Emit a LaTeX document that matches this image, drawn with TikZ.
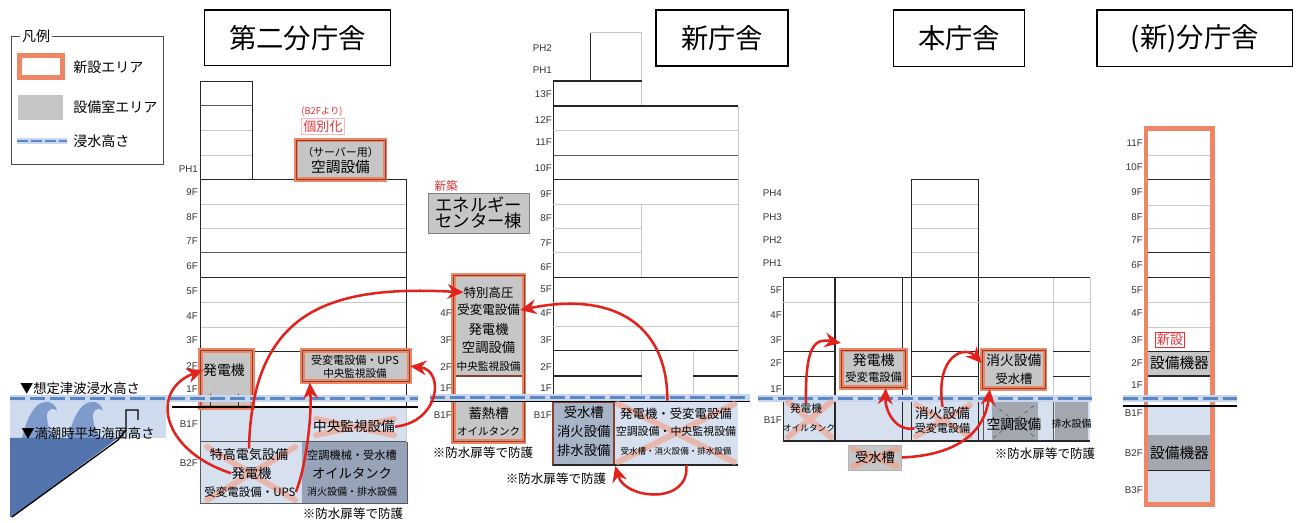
\documentclass[tikz,border=0pt]{standalone}
\usepackage{fontspec}
\setmainfont{Noto Sans CJK JP}
\newfontfamily\lblfont{Liberation Sans}
\usetikzlibrary{arrows.meta,calc}

\definecolor{newor}{HTML}{EE8666}
\definecolor{newrim}{HTML}{8C3F2E}
\definecolor{roomgray}{HTML}{C6C6C6}
\definecolor{lowblue}{HTML}{D6E0EF}
\definecolor{slate}{HTML}{97A3B8}
\definecolor{tankblue}{HTML}{A8B4C8}
\definecolor{plantgray}{HTML}{A3A7AF}
\definecolor{flowred}{HTML}{E2231D}
\definecolor{xmark}{HTML}{F2A08A}
\definecolor{floorgray}{HTML}{C9C9C9}
\definecolor{waterdash}{HTML}{5B87C4}
\definecolor{waterhalo}{HTML}{C8D7EE}
\definecolor{seadeep}{HTML}{5474AE}
\definecolor{seawave}{HTML}{7F9BCB}
\definecolor{seabright}{HTML}{CFDCEF}
\definecolor{notered}{HTML}{E5323A}

\newcommand\fsz[1]{\fontsize{#1pt}{#1pt}\selectfont}
% salmon cross over equipment that is moved away
\newcommand\strikeX[4]{\draw[xout] (#1,#2) -- (#3,#4) (#1,#4) -- (#3,#2);}

\begin{document}
\begin{tikzpicture}[x=0.75pt,y=-0.75pt,
  wall/.style={draw=black!85,line width=0.8pt},
  thinwall/.style={draw=black!65,line width=0.5pt},
  floorln/.style={draw=floorgray,line width=0.5pt},
  ground/.style={draw=black,line width=1.3pt},
  fl/.style={font=\lblfont\fontsize{7.3}{8}\selectfont,anchor=east,inner sep=0pt,text=black!80},
  tx/.style={inner sep=0pt,font=\fsz{#1}},
  redtx/.style={inner sep=0pt,text=notered,font=\fsz{#1}},
  titlebox/.style={draw=black,line width=1.1pt,fill=white,inner sep=0pt,font=\fsz{20.5}},
  newarea/.style={draw=newor,double=newrim,double distance=0.7pt,line width=1.4pt,inner sep=0pt},
  flow/.style={draw=flowred,line width=1.9pt,-{Stealth[length=12pt,width=11pt]}},
  xout/.style={draw=xmark,line width=4.5pt,opacity=0.65,line cap=round},
  waterband/.style={draw=waterhalo,line width=5pt},
  waterline/.style={draw=waterdash,line width=2.2pt,dash pattern=on 11pt off 4pt},
]
\fill[white] (0,0) rectangle (1299,523);
\useasboundingbox (0,0) rectangle (1299,523);

% ---------------- legend ----------------
\draw[draw=black!70,line width=0.6pt] (11,36) rectangle (163,164);
\node[fill=white,inner sep=1.5pt,font=\fsz{10.5}] (legtitle) at (36,36) {凡例};
\draw[draw=newor,line width=3.6pt,fill=white] (19.5,55.5) rectangle (62.5,77.5);
\node[tx=10.5,anchor=west] (legnew) at (73,67) {新設エリア};
\fill[roomgray] (18,95) rectangle (63,120);
\node[tx=10.5,anchor=west] (legroom) at (73,107) {設備室エリア};
\draw[waterband,line width=4pt] (17,141) -- (67,141);
\draw[waterline,dash pattern=on 8pt off 2.5pt] (17,141) -- (67,141);
\node[tx=10.5,anchor=west] (legwater) at (73,141) {浸水高さ};

% ---------------- titles ----------------
\node[titlebox,minimum width=139.8pt,minimum height=41.8pt] (t1) at (297.5,37.9) {第二分庁舎};
\node[titlebox,minimum width=99pt,minimum height=42pt] (t2) at (722,38) {新庁舎};
\node[titlebox,minimum width=98pt,minimum height=42.5pt] (t3) at (959,38.3) {本庁舎};
\node[titlebox,minimum width=146.8pt,minimum height=42.5pt] (t4) at (1194.8,38.3) {(新)分庁舎};

% ---------------- sea and seawall ----------------
\fill[seabright] (10,399) rectangle (166,438);
\foreach \wx in {22,68} {
  \fill[seawave] (\wx,438) .. controls (\wx+5,418) and (\wx+12,403) .. (\wx+23,402)
    .. controls (\wx+29,401) and (\wx+34,405) .. (\wx+35,411)
    .. controls (\wx+30,406) and (\wx+24,410) .. (\wx+25,418)
    .. controls (\wx+26,428) and (\wx+29,434) .. (\wx+34,438) -- cycle;
}
\fill[seadeep] (10,438) -- (118,438) -- (12,517) -- (10,517) -- cycle;
\draw[black,line width=1pt] (12,517) -- (118,440) -- (126,430) -- (126,410) -- (138,410) -- (138,420);

% ---------------- 第二分庁舎 ----------------
\fill[lowblue] (200.7,407.3) rectangle (406.7,441.7);
\fill[lowblue] (200.7,441.7) rectangle (301.7,503.3);
\fill[slate] (301.7,441.7) rectangle (407,503.3);
\draw[floorln] (200.7,130.7) -- (252.3,130.7) (200.7,155) -- (252.3,155);
\draw[thinwall] (200.7,105.7) -- (252.3,105.7);
\draw[wall] (200.7,179.3) -- (200.7,81.3) -- (252.3,81.3) -- (252.3,179.3);
\draw[floorln] (200.7,204) -- (406.7,204) (200.7,228.5) -- (406.7,228.5)
  (200.7,302.3) -- (406.7,302.3) (200.7,326.9) -- (406.7,326.9);
\draw[thinwall] (200.7,252.7) -- (406.7,252.7);
\draw[wall] (200.7,277.3) -- (406.7,277.3) (200.7,351.5) -- (406.7,351.5);
\draw[wall] (200.7,407.3) -- (200.7,179.3) -- (406.7,179.3) -- (406.7,407.3);
\draw[thinwall] (200.7,441.7) -- (407,441.7);
\draw[thinwall] (200.7,407.3) -- (200.7,503.3) -- (407,503.3) -- (407,441.7);
\draw[floorln] (406.7,407.3) -- (406.7,441.7);

\node[newarea,fill=roomgray,minimum width=38.7pt,minimum height=42.45pt] (genbox) at (226.5,379) {};
\draw[gray!70,dotted,line width=0.5pt] (208,394) -- (226,386) -- (240,394);
\draw[black!80,line width=0.6pt] (210,394) -- (210,407) (238.3,394) -- (238.3,407);
\node[newarea,fill=roomgray,minimum width=79.95pt,minimum height=23.25pt] (jhbox) at (356,366.2) {};
\node[newarea,fill=roomgray,minimum width=66.75pt,minimum height=29.5pt] (srvbox) at (340.5,159.65) {};
\draw[ground] (171.7,407.3) -- (418,407.3);

\foreach \t/\y in {PH1/169,9F/192,8F/217,7F/241,6F/266,5F/291,4F/316,3F/340,2F/366,1F/389,B1F/424,B2F/463}
  \node[fl] (la\t) at (198,\y) {\t};

% ---------------- エネルギーセンター棟 ----------------
\fill[roomgray] (453.3,275) rectangle (524,376);
\fill[roomgray] (453.3,400) rectangle (524,441.7);
\draw[newrim,line width=0.8pt] (453.3,376) -- (524,376);
\node[newarea,minimum width=53pt,minimum height=125pt] (ebox) at (488.65,358.35) {};
\node[draw=black!50,line width=0.5pt,fill=roomgray,minimum width=75.75pt,minimum height=30pt,
  inner sep=0pt,align=center,font=\fontsize{13}{12}\selectfont] (ecbox) at (478.8,213.3) {エネルギー\\センター棟};
\foreach \t/\y in {4F/313,3F/340,2F/367,1F/388,B1F/415}
  \node[fl] (en\t) at (452,\y) {\t};

% ---------------- 新庁舎 ----------------
\fill[lowblue] (553.3,401) rectangle (738.3,465);
\draw[wall] (590.7,81) -- (590.7,32.7);
\draw[floorln] (590.7,32.7) -- (641.7,32.7) -- (641.7,106);
\draw[wall] (553.3,81) -- (641.7,81);
\draw[wall] (553.3,401) -- (553.3,81);
\draw[wall] (553.3,106) -- (738.3,106) (553.3,179.3) -- (738.3,179.3)
  (553.3,277.3) -- (738.3,277.3) (553.3,350.7) -- (738.3,350.7);
\draw[thinwall] (553.3,155) -- (738.3,155);
\draw[floorln] (553.3,130) -- (738.3,130) (553.3,204) -- (738.3,204)
  (553.3,228.5) -- (641.7,228.5) (553.3,252.3) -- (641.7,252.3) (641.7,204) -- (641.7,277.3)
  (553.3,302) -- (738.3,302) (553.3,326.5) -- (738.3,326.5) (738.3,106) -- (738.3,401)
  (641.7,350.7) -- (641.7,401) (693.3,350.7) -- (693.3,401);
\draw[wall] (553.3,376) -- (641.7,376) (693.3,376) -- (738.3,376);
\node[fill=lowblue,minimum width=93pt,minimum height=48pt,inner sep=0pt] (shinx) at (676.3,433) {};
\node[draw=newrim,line width=1.4pt,fill=tankblue,minimum width=45.75pt,minimum height=47.5pt,inner sep=0pt] (ukebox) at (583.8,433.35) {};
\draw[wall] (553.3,465) -- (738.3,465);
\draw[ground] (430,401.5) -- (750,401.5);
\foreach \t/\y in {PH2/48,PH1/70,13F/94,12F/120,11F/142,10F/168,9F/194,8F/218,7F/243,6F/267,5F/289,4F/313,3F/340,2F/367,1F/388,B1F/415}
  \node[fl] (sn\t) at (552,\y) {\t};

% ---------------- 本庁舎 ----------------
\fill[lowblue] (783.3,402) rectangle (1090,441);
\fill[plantgray] (991.7,402) rectangle (1037.7,440);
\fill[plantgray] (1055,402) rectangle (1088,440);
\draw[gray!60!black,dashed,line width=0.4pt] (993,404) -- (1036,438) (993,438) -- (1036,404);
\draw[floorln] (911.7,204.3) -- (978.3,204.3) (911.7,228.3) -- (978.3,228.3) (911.7,252.7) -- (978.3,252.7);
\draw[wall] (911.7,277.7) -- (911.7,179.3) -- (978.3,179.3) -- (978.3,441);
\draw[wall] (783.3,441) -- (783.3,277.7) -- (1090,277.7);
\draw[floorln] (783.3,302.3) -- (1090,302.3) (1090,277.7) -- (1090,402) (1053.3,277.7) -- (1053.3,402);
\draw[wall] (835,277.7) -- (835,441) (902.7,277.7) -- (902.7,441) (911.7,277.7) -- (911.7,441);
\draw[wall] (783.3,351.7) -- (835,351.7) (911.7,351.7) -- (978.3,351.7) (1053.3,351.7) -- (1090,351.7);
\draw[wall] (783.3,376.7) -- (835,376.7) (911.7,376.7) -- (978.3,376.7) (1053.3,376.7) -- (1090,376.7);
\draw[thinwall] (983.3,402) -- (983.3,441) (1053.3,402) -- (1053.3,441);
\draw[wall] (783.3,441) -- (1090,441);
\node[newarea,fill=roomgray,minimum width=48pt,minimum height=28pt] (honbox1) at (873.7,368.65) {};
\node[newarea,fill=roomgray,minimum width=46.7pt,minimum height=28.7pt] (honbox2) at (1013.85,369.15) {};
\node[fill=roomgray,draw=gray!60,line width=0.4pt,minimum width=40pt,minimum height=18.75pt,inner sep=0pt] (hukbox) at (875,457.5) {};
\foreach \t/\y in {PH4/193,PH3/217,PH2/240,PH1/263,5F/290,4F/315,3F/340,2F/363,1F/389,B1F/420}
  \node[fl] (hn\t) at (782,\y) {\t};

% ---------------- (新)分庁舎 ----------------
\fill[lowblue] (1147.3,405.7) rectangle (1211.7,503.3);
\fill[plantgray] (1147.3,435) rectangle (1211.7,470.7);
\fill[roomgray] (1147.3,351.7) rectangle (1211.7,376);
\draw[floorln] (1147.3,155) -- (1211.7,155) (1147.3,205) -- (1211.7,205) (1147.3,228.3) -- (1211.7,228.3)
  (1147.3,302.7) -- (1211.7,302.7) (1147.3,327) -- (1211.7,327);
\draw[wall] (1147.3,179.3) -- (1211.7,179.3) (1147.3,252.7) -- (1211.7,252.7) (1147.3,277.7) -- (1211.7,277.7)
  (1147.3,351.7) -- (1211.7,351.7) (1147.3,376) -- (1211.7,376) (1147.3,470.7) -- (1211.7,470.7);
\draw[wall] (1147.3,130) -- (1147.3,503.3);
\node[draw=newor,line width=3.4pt,minimum width=49.9pt,minimum height=282pt,inner sep=0pt] (nsbldg) at (1179.25,316.5) {};
\draw[ground] (1123,405.7) -- (1237,405.7);
\foreach \t/\y in {11F/143,10F/167,9F/192,8F/217,7F/240,6F/265,5F/290,4F/313,3F/340,2F/363,1F/385,B1F/413,B2F/453,B3F/490}
  \node[fl] (bn\t) at (1143,\y) {\t};

% ---------------- flood heights ----------------
\foreach \xa/\xb/\yy in {10/418/398.3,430/750/397.5,758/1092/398.3,1123/1237/398.3} {
  \draw[waterband] (\xa,\yy) -- (\xb,\yy);
  \draw[waterline] (\xa,\yy) -- (\xb,\yy);
}

% ---------------- equipment that is relocated ----------------
\strikeX{207}{447}{295}{500}
\strikeX{316}{419}{394}{435}
\strikeX{618}{404}{734}{462}
\strikeX{788}{402}{831}{437}
\strikeX{916}{405}{970}{436}
\strikeX{853}{449}{897}{466}

% ---------------- texts ----------------
\node[tx=10] (tsunami) at (80,388) {▼想定津波浸水高さ};
\node[tx=10] (meansea) at (88,433) {▼満潮時平均海面高さ};

\node[redtx=7] (b2fnote) at (322,111.7) {(B2Fより)};
\node[redtx=9.8,draw=notered!35,line width=0.5pt,inner sep=1.5pt] (kobetsu) at (323,126.7) {個別化};
\node[tx=8.2] (srvA) at (340.5,152.3) {（サーバー用）};
\node[tx=11] (srvB) at (340.5,167.3) {空調設備};
\node[tx=10.4] (genL) at (224,370) {発電機};
\node[tx=8.3] (jhA) at (355,360) {受変電設備・UPS};
\node[tx=7.9] (jhB) at (355,373.3) {中央監視設備};
\node[tx=10.2] (chuoB1) at (354,426.7) {中央監視設備};
\node[tx=9.8] (b2tok) at (249,455) {特高電気設備};
\node[tx=10] (b2gen) at (251.5,473.3) {発電機};
\node[tx=8.6] (b2jh) at (250,492) {受変電設備・UPS};
\node[tx=8.4] (b2r1) at (352,455) {空調機械・受水槽};
\node[tx=10] (b2r2) at (352,473.3) {オイルタンク};
\node[tx=7.5] (b2r3) at (352,492) {消火設備・排水設備};
\node[tx=9.4] (noteL) at (353,513.3) {※防水扉等で防護};

\node[redtx=8.8] (shinchiku) at (446,185.7) {新築};
\node[tx=9.3] (eA) at (488.6,292.3) {特別高圧};
\node[tx=9.4] (eB) at (488.6,310) {受変電設備};
\node[tx=10] (eC) at (488.6,329.5) {発電機};
\node[tx=10] (eD) at (488.6,347.5) {空調設備};
\node[tx=8] (eE) at (488.6,366.7) {中央監視設備};
\node[tx=10] (eF) at (488.6,413.3) {蓄熱槽};
\node[tx=7.9] (eG) at (488.6,431.7) {オイルタンク};
\node[tx=9.4] (noteE) at (483,452.7) {※防水扉等で防護};

\node[tx=10] (ukeA) at (583.8,412.7) {受水槽};
\node[tx=10] (ukeB) at (583.8,431.7) {消火設備};
\node[tx=10] (ukeC) at (583.8,450.7) {排水設備};
\node[tx=9.3] (shinx1) at (676,414) {発電機・受変電設備};
\node[tx=8.2] (shinx2) at (676,431.7) {空調設備・中央監視設備};
\node[tx=6.4] (shinx3) at (676,451) {受水槽・消火設備・排水設備};
\node[tx=9.4] (noteS) at (556,478.3) {※防水扉等で防護};

\node[tx=10.5] (hb1A) at (873.7,360) {発電機};
\node[tx=8.5] (hb1B) at (873.7,376.7) {受変電設備};
\node[tx=10.3] (hb2A) at (1013.9,360.7) {消火設備};
\node[tx=9.2] (hb2B) at (1013.9,379) {受水槽};
\node[tx=8] (hgA) at (806,408.3) {発電機};
\node[tx=6.5] (hgB) at (809,428.3) {オイルタンク};
\node[tx=10.3] (hsA) at (942.5,413.3) {消火設備};
\node[tx=8.3] (hsB) at (942.5,428.3) {受変電設備};
\node[tx=10.3] (hac) at (1014,424) {空調設備};
\node[tx=7.5] (hdr) at (1071.5,424) {排水設備};
\node[tx=10] (huk) at (875,457.3) {受水槽};
\node[tx=9.4] (noteH) at (1045,453.3) {※防水扉等で防護};

\node[redtx=9.8,draw=notered,line width=0.6pt,inner sep=1.2pt] (shinsetsu) at (1170,340) {新設};
\node[tx=11] (nsA) at (1179.5,363.3) {設備機器};
\node[tx=11] (nsB) at (1179.5,453.3) {設備機器};

% ---------------- relocation flows ----------------
\draw[flow] (b2gen.west) .. controls (160,450) and (150,390) .. (genL.west);
\draw[flow] (b2tok.north) .. controls (252,310) and (330,285) .. (eA.west);
\draw[flow] (b2jh.east) .. controls (305,470) and (312,420) .. ($(jhbox.south west)+(8,0)$);
\draw[flow] (chuoB1.east) .. controls (440,422) and (445,370) .. (jhbox.east);
\draw[flow] ($(shinx.north)+(-9,0)$) .. controls (668,330) and (620,290) .. (eB.east);
\draw[flow] ($(shinx.south)+(10,0)$) .. controls (690,505) and (625,500) .. (ukebox.south east);
\draw[flow] (hgA.north) .. controls (805,345) and (815,338) .. ($(honbox1.north west)+(0,-6)$);
\draw[flow] (hukbox.east) .. controls (960,455) and (985,430) .. ($(honbox2.south west)+(8,0)$);
\draw[flow] (hsA.north) .. controls (935,355) and (965,345) .. ($(honbox2.west)+(0,-6)$);
\draw[flow] (hsB.west) .. controls (895,432) and (885,410) .. ($(honbox1.south)+(12,0)$);
\end{tikzpicture}
\end{document}
